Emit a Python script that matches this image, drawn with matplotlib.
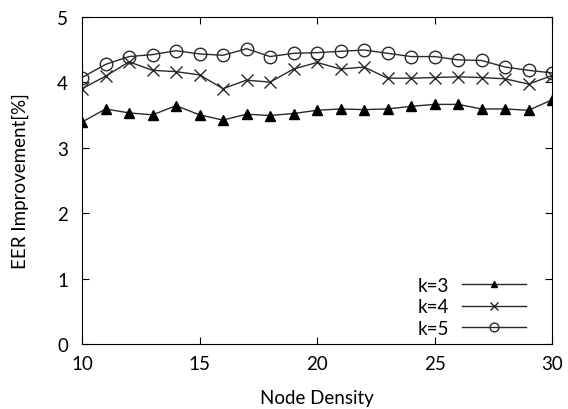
import matplotlib.pyplot as plt

plt.rcParams['font.family'] = ['Lato', 'DejaVu Sans']

density = [10, 11, 12, 13, 14, 15, 16, 17, 18, 19, 20, 21, 22, 23, 24, 25, 26, 27, 28, 29, 30]
k3 = [3.39, 3.59, 3.53, 3.50, 3.64, 3.50, 3.42, 3.51, 3.49, 3.52, 3.57,
      3.59, 3.58, 3.59, 3.63, 3.66, 3.66, 3.59, 3.59, 3.57, 3.73]
k4 = [3.90, 4.09, 4.31, 4.18, 4.16, 4.11, 3.90, 4.03, 4.00, 4.20, 4.30,
      4.20, 4.23, 4.06, 4.06, 4.07, 4.08, 4.07, 4.05, 3.97, 4.10]
k5 = [4.07, 4.27, 4.39, 4.42, 4.48, 4.43, 4.41, 4.51, 4.39, 4.44, 4.45,
      4.47, 4.49, 4.44, 4.39, 4.39, 4.34, 4.33, 4.23, 4.18, 4.14]

fig = plt.figure(figsize=(5.68, 4.10), dpi=100)
ax = fig.add_axes([0.1444, 0.1585, 0.8276, 0.7985])

col = '#2a2a2a'
ax.plot(density, k3, color=col, lw=1.0, marker='^', ms=7, mfc='black', mec='black', label='k=3')
ax.plot(density, k4, color=col, lw=1.0, marker='x', ms=9, mew=1.0, mec=col, label='k=4')
ax.plot(density, k5, color=col, lw=1.0, marker='o', ms=9, mfc='none', mec=col, mew=1.0, label='k=5')

ax.set_xlim(10, 30)
ax.set_ylim(0, 5)
ax.set_xticks([10, 15, 20, 25, 30])
ax.set_yticks([0, 1, 2, 3, 4, 5])
ax.tick_params(direction='in', top=True, right=True, labelsize=13.5, length=5)
ax.tick_params(axis='x', pad=8)
ax.tick_params(axis='y', pad=10)
ax.set_xlabel('Node Density', fontsize=13.5)
ax.set_ylabel('EER Improvement[%]', fontsize=13.5)
ax.xaxis.set_label_coords(0.5, -0.138)
ax.yaxis.set_label_coords(-0.113, 0.5)

leg = ax.legend(loc='lower right', frameon=False, markerfirst=False, fontsize=13.5,
                handlelength=3.4, handletextpad=0.7, labelspacing=0.25, markerscale=0.7,
                bbox_to_anchor=(0.98, -0.03))

fig.savefig('out.png', dpi=100)
